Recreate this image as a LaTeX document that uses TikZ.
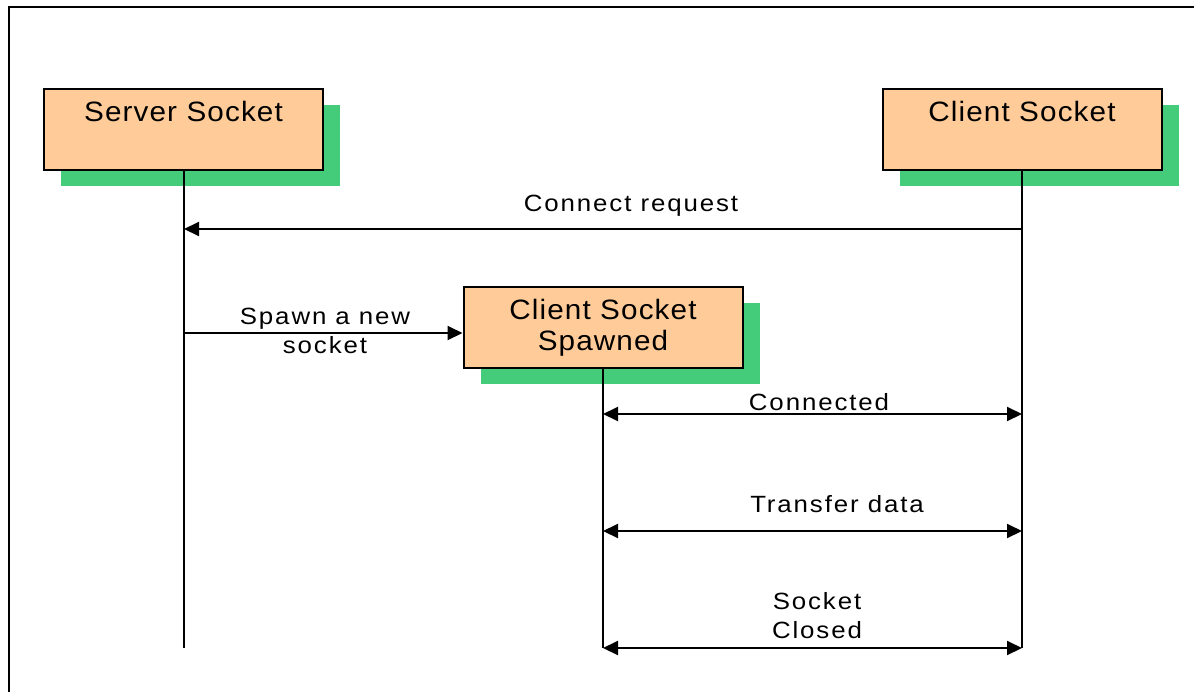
\documentclass[tikz,border=0pt]{standalone}
\usepackage{fontspec}
\setmainfont{Liberation Sans}
\newfontfamily\boxfont[FakeStretch=1.06,LetterSpace=4]{Liberation Sans}
\newfontfamily\labfont[FakeStretch=1.1,LetterSpace=8]{Liberation Sans}
\usetikzlibrary{arrows.meta,shadows}
\definecolor{boxfill}{HTML}{FFCC99}
\definecolor{shadowgreen}{HTML}{44CC7A}
\tikzset{
  sockbox/.style={draw=black, line width=2pt, fill=boxfill,
    minimum width=279pt, minimum height=81pt, inner sep=0pt,
    drop shadow={shadow xshift=17pt, shadow yshift=-16pt, fill=shadowgreen, opacity=1}},
  boxtxt/.style={font=\boxfont\fontsize{28}{31}\selectfont, align=center},
  lab/.style={font=\labfont\fontsize{23.5}{29}\selectfont, align=center, inner sep=0pt},
  life/.style={line width=1.8pt},
  msg/.style={line width=2pt, -{Triangle[length=15pt,width=14pt]}},
  dmsg/.style={line width=2pt, {Triangle[length=15pt,width=14pt]}-{Triangle[length=15pt,width=14pt]}}
}
\begin{document}
\begin{tikzpicture}[x=1pt,y=-1pt]
\useasboundingbox (0,0) rectangle (1194,691);
% frame around the drawing
\draw[line width=2.5pt] (9,700) -- (9,7) -- (1200,7);

% socket boxes
\node[sockbox, label={[boxtxt, anchor=north, yshift=-10pt]north:Server Socket}] (srv) at (183.5,129) {};
\node[sockbox, label={[boxtxt, anchor=north, yshift=-10pt]north:Client Socket}] (cli) at (1022,129) {};
\node[sockbox, boxtxt] (spw) at (603,327.5) {Client Socket\\Spawned};

% lifeline ends
\coordinate (srvEnd) at (184,648);
\coordinate (cliEnd) at (1022,648);
\coordinate (spwEnd) at (603,648);
\draw[life] (srv.south -| srvEnd) -- (srvEnd);
\draw[life] (cli.south -| cliEnd) -- (cliEnd);
\draw[life] (spw.south -| spwEnd) -- (spwEnd);

% messages
\coordinate (cr1) at (1022,229);
\coordinate (cr2) at (184,229);
\draw[msg] (cr1) -- (cr2);
\node[lab] (crl) at (631,206) {Connect request};

\coordinate (sp1) at (184,333);
\draw[msg] (sp1) -- (spw.west |- sp1);
\node[lab] (spl) at (325,331) {Spawn a new\\socket};

\coordinate (cn1) at (603,414);
\coordinate (cn2) at (1022,414);
\draw[dmsg] (cn1) -- (cn2);
\node[lab] (cnl) at (819,402) {Connected};

\coordinate (td1) at (603,531);
\coordinate (td2) at (1022,531);
\draw[dmsg] (td1) -- (td2);
\node[lab] (tdl) at (837,504) {Transfer data};

\coordinate (sc1) at (603,648);
\coordinate (sc2) at (1022,648);
\draw[dmsg] (sc1) -- (sc2);
\node[lab] (scl) at (817,616) {Socket\\Closed};
\end{tikzpicture}
\end{document}
